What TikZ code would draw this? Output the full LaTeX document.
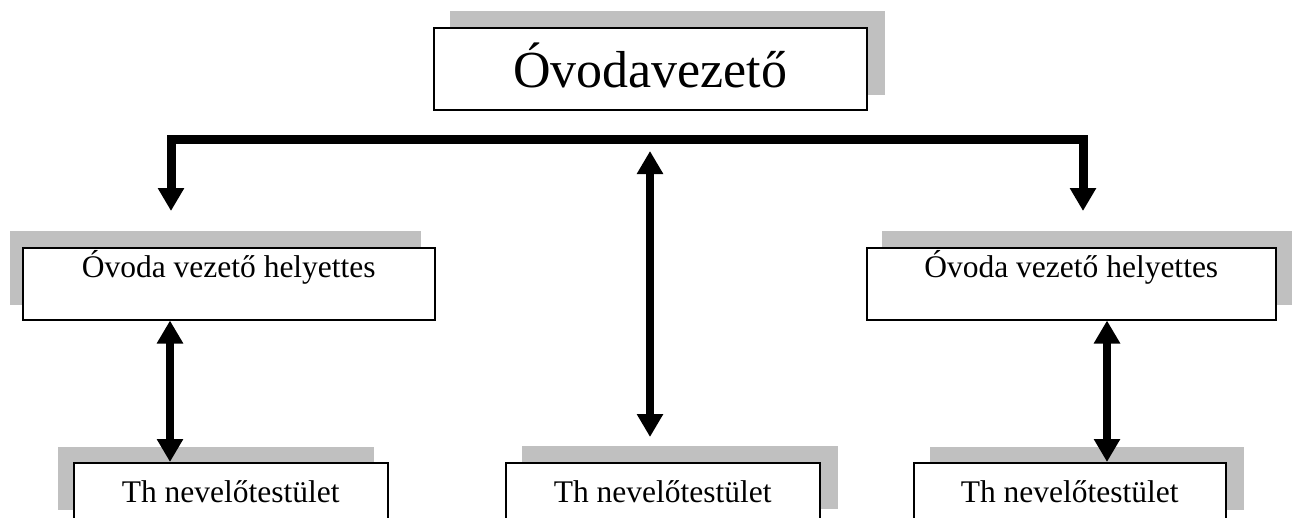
\documentclass[tikz,border=0pt]{standalone}
\usepackage{fontspec}
\setmainfont{Liberation Serif}
\usetikzlibrary{arrows.meta,backgrounds}
\definecolor{shadowgray}{RGB}{192,192,192}
\tikzset{
  box/.style={draw=black, line width=1.5pt, fill=white, inner sep=0pt, anchor=north west},
  bigtext/.style={font=\fontsize{52}{60}\selectfont, text height=38pt, text depth=0pt},
  midtext/.style={font=\fontsize{31.5}{38}\selectfont, text height=0pt, text depth=12pt},
  lowtext/.style={font=\fontsize{31.5}{38}\selectfont, text height=19pt, text depth=0pt},
  shadowfill/.style={fill=shadowgray},
  buslink/.style={line width=9pt, line join=miter},
  shaft/.style={line width=8.5pt},
  headboth/.style={{Triangle[width=25pt,length=23pt]}-{Triangle[width=25pt,length=23pt]}}
}
\begin{document}
\begin{tikzpicture}[x=1pt,y=-1pt]
\useasboundingbox (0,0) rectangle (1292,517);
\clip (0,0) rectangle (1292,517);

% boxes
\node[box, bigtext, minimum width=433pt, minimum height=82pt] (T) at (433,27) {Óvodavezető};
\node[box, midtext, minimum width=412pt, minimum height=72pt] (L) at (22,247) {Óvoda vezető helyettes};
\node[box, midtext, minimum width=409pt, minimum height=72pt] (R) at (866,247) {Óvoda vezető helyettes};
\node[box, lowtext, minimum width=314pt, minimum height=61pt] (BL) at (73,462) {Th nevelőtestület};
\node[box, lowtext, minimum width=314pt, minimum height=61pt] (BM) at (505,462) {Th nevelőtestület};
\node[box, lowtext, minimum width=312pt, minimum height=61pt] (BR) at (913,462) {Th nevelőtestület};

% shadows
\begin{scope}[on background layer]
  \fill[shadowfill] ([shift={(17,-16)}]T.south west) rectangle ([shift={(17,-16)}]T.north east);
  \fill[shadowfill] ([shift={(-12,-16)}]L.south west) rectangle ([shift={(-15,-16)}]L.north east);
  \fill[shadowfill] ([shift={(16,-16)}]R.south west) rectangle ([shift={(16,-16)}]R.north east);
  \fill[shadowfill] ([shift={(-15,-15)}]BL.south west) rectangle ([shift={(-15,-15)}]BL.north east);
  \fill[shadowfill] ([shift={(17,-16)}]BM.south west) rectangle ([shift={(17,-16)}]BM.north east);
  \fill[shadowfill] ([shift={(17,-15)}]BR.south west) rectangle ([shift={(17,-15)}]BR.north east);
\end{scope}

% connector coordinates
\coordinate (bL) at (171,139.5);
\coordinate (bR) at (1083,139.5);
\coordinate (aL) at (171,211);
\coordinate (aR) at (1083,211);
\coordinate (mT) at (650,151);
\coordinate (mB) at (650,437);
\coordinate (lx) at (170,0);
\coordinate (rx) at (1107,0);

% connectors
\draw[buslink, headboth] (aL) -- (bL) -- (bR) -- (aR);
\draw[shaft, headboth] (mT) -- (mB);
\draw[shaft, headboth] (L.south -| lx) -- (BL.north -| lx);
\draw[shaft, headboth] (R.south -| rx) -- (BR.north -| rx);
\end{tikzpicture}
\end{document}
